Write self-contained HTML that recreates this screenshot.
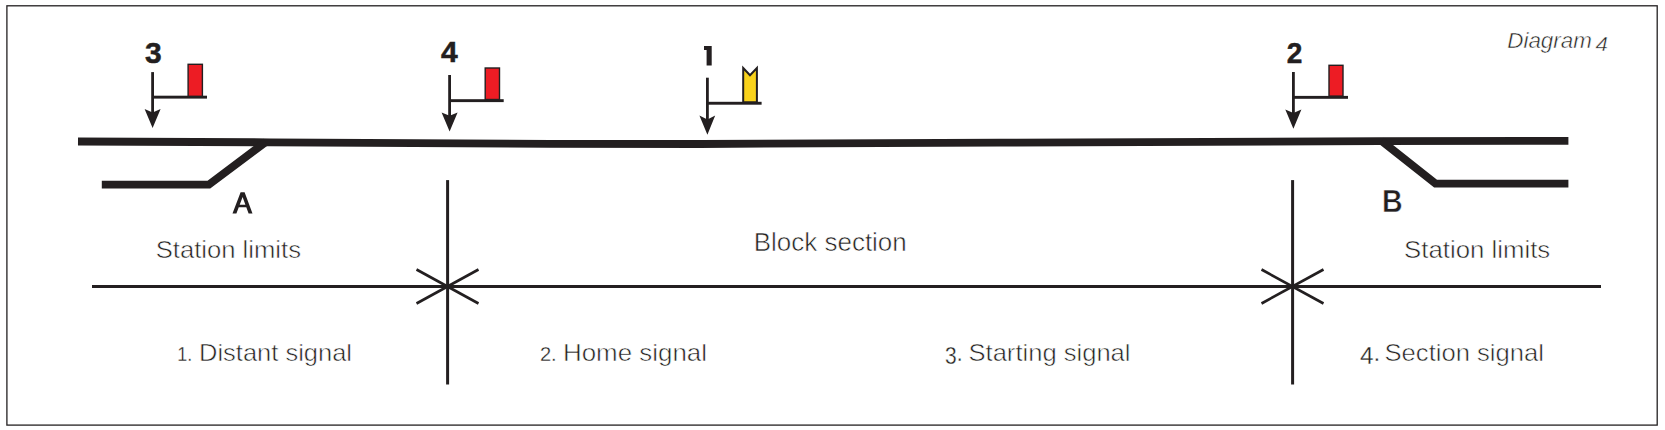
<!DOCTYPE html>
<html>
<head>
<meta charset="utf-8">
<style>
html,body{margin:0;padding:0;background:#fff;}
body{width:1665px;height:430px;overflow:hidden;}
svg{display:block;}
text{font-family:"Liberation Sans",sans-serif;}
</style>
</head>
<body>
<svg width="1665" height="430" viewBox="0 0 1665 430">
  <rect x="0" y="0" width="1665" height="430" fill="#fff"/>
  <!-- frame -->
  <rect x="6.9" y="5.8" width="1650.3" height="419.3" fill="none" stroke="#231f20" stroke-width="1.3"/>

  <!-- main track -->
  <polyline points="78,141.5 270,142.3 550,143.8 700,144 1000,142.6 1380,141.1 1568.4,140.8" fill="none" stroke="#231f20" stroke-width="7.8" stroke-linejoin="round"/>
  <!-- left siding -->
  <polyline points="101.8,184.6 208.9,184.6 265.7,142" fill="none" stroke="#231f20" stroke-width="7.9" stroke-linejoin="miter"/>
  <!-- right siding -->
  <polyline points="1381.5,140.9 1435.5,183.6 1568.4,183.6" fill="none" stroke="#231f20" stroke-width="7.9" stroke-linejoin="miter"/>

  <!-- signal 3 -->
  <g fill="#231f20" stroke="none">
    <rect x="151.2" y="72.1" width="2.8" height="44"/>
    <rect x="152.6" y="95.7" width="54.4" height="2.9"/>
    <path d="M144.6,109.1 L152.6,112.5 L160.6,109.1 L152.6,127.9 Z"/>
  </g>
  <rect x="188.1" y="64.3" width="14.3" height="32" fill="#ed1c24" stroke="#231f20" stroke-width="1.4"/>
  <text x="145" y="62.8" font-size="30" font-weight="bold" fill="#231f20" stroke="#231f20" stroke-width="0.5">3</text>

  <!-- signal 4 -->
  <g fill="#231f20" stroke="none">
    <rect x="448.2" y="75" width="2.8" height="44"/>
    <rect x="449.6" y="99.2" width="54.1" height="2.9"/>
    <path d="M441.6,112.4 L449.6,115.8 L457.6,112.4 L449.6,131.6 Z"/>
  </g>
  <rect x="485.2" y="68" width="14.3" height="31.5" fill="#ed1c24" stroke="#231f20" stroke-width="1.4"/>
  <text x="441" y="61.7" font-size="30" font-weight="bold" fill="#231f20" stroke="#231f20" stroke-width="0.5">4</text>

  <!-- signal 1 -->
  <g fill="#231f20" stroke="none">
    <rect x="706" y="77.7" width="2.8" height="44"/>
    <rect x="707.4" y="101.8" width="54.2" height="2.9"/>
    <path d="M699.4,115.4 L707.4,119.4 L715.2,115.4 L707.4,134.8 Z"/>
  </g>
  <path d="M743.2,68 L750,75.2 L756.9,68 L756.9,102.2 L743.2,102.2 Z" fill="#f9d21b" stroke="#231f20" stroke-width="2" stroke-linejoin="miter"/>
  <path d="M706.6,46 L711.7,46 L711.7,65.5 L706.6,65.5 L706.6,50 L704,50 L704,46 Z" fill="#231f20"/>

  <!-- signal 2 -->
  <g fill="#231f20" stroke="none">
    <rect x="1292" y="72" width="2.8" height="44"/>
    <rect x="1293.4" y="95.9" width="54.6" height="2.9"/>
    <path d="M1285.3,109.5 L1293.4,112.9 L1301.4,109.5 L1293.4,128.7 Z"/>
  </g>
  <rect x="1329" y="65.3" width="14" height="30.8" fill="#ed1c24" stroke="#231f20" stroke-width="1.4"/>
  <text x="1286.8" y="62.8" font-size="30" font-weight="bold" fill="#231f20" stroke="#231f20" stroke-width="0.5" textLength="15.6" lengthAdjust="spacingAndGlyphs">2</text>

  <!-- A / B -->
  <path d="M232.5,213.6 L240.6,192.2 L244.6,192.2 L252.5,213.6 L248.6,213.6 L246.3,207.3 L238.76,207.3 L236.4,213.6 Z M239.7,204.8 L242.6,197.1 L245.38,204.8 Z" fill="#231f20" fill-rule="evenodd"/>
  <text x="1382.1" y="212.2" font-size="32" fill="#231f20" font-weight="bold" stroke="#fff" stroke-width="0.5" textLength="20.6" lengthAdjust="spacingAndGlyphs">B</text>

  <!-- vertical dividers -->
  <g stroke="#231f20" stroke-width="3" fill="none">
    <line x1="447.6" y1="180.1" x2="447.6" y2="384.5"/>
    <line x1="1292.6" y1="180.1" x2="1292.6" y2="384.5"/>
    <line x1="92" y1="286.4" x2="1601" y2="286.4"/>
  </g>
  <g stroke="#231f20" stroke-width="2.6" fill="none">
    <line x1="416.5" y1="269.5" x2="478.5" y2="303.5"/>
    <line x1="416.5" y1="303.5" x2="478.5" y2="269.5"/>
    <line x1="1261.5" y1="269.5" x2="1323.5" y2="303.5"/>
    <line x1="1261.5" y1="303.5" x2="1323.5" y2="269.5"/>
  </g>

  <!-- labels -->
  <g fill="#231f20" font-size="24" stroke="#fff" stroke-width="0.55">
    <text x="155.7" y="257.9" font-size="24.8" textLength="145.3" lengthAdjust="spacingAndGlyphs">Station limits</text>
    <text x="753.7" y="251" font-size="25.2" textLength="153.1" lengthAdjust="spacingAndGlyphs">Block section</text>
    <text x="1404.1" y="257.8" font-size="24.8" textLength="146.1" lengthAdjust="spacingAndGlyphs">Station limits</text>
    <text id="n1" stroke-width="0.3" x="177.3" y="360.7" font-size="19.4" textLength="15" lengthAdjust="spacingAndGlyphs">1.</text>
    <text id="w1" x="199" y="360.7" textLength="153" lengthAdjust="spacingAndGlyphs">Distant signal</text>
    <text id="n2" stroke-width="0.3" x="539.9" y="360.7" font-size="19.4" textLength="16.8" lengthAdjust="spacingAndGlyphs">2.</text>
    <text id="w2" x="563" y="360.7" textLength="144" lengthAdjust="spacingAndGlyphs">Home signal</text>
    <text id="n3" stroke-width="0.3" x="945" y="363.8" font-size="23.5" textLength="17.5" lengthAdjust="spacingAndGlyphs">3<tspan dy="-3.1">.</tspan></text>
    <text id="w3" x="968.5" y="360.7" textLength="162" lengthAdjust="spacingAndGlyphs">Starting signal</text>
    <text id="n4" stroke-width="0.3" x="1360" y="363.5" font-size="23.5" textLength="20.3" lengthAdjust="spacingAndGlyphs">4<tspan dy="-2.8">.</tspan></text>
    <text id="w4" x="1384.5" y="360.7" textLength="159.5" lengthAdjust="spacingAndGlyphs">Section signal</text>
  </g>
  <g font-style="italic" fill="#231f20" stroke="#fff" stroke-width="0.5">
    <text id="d1" x="1507.3" y="47.9" font-size="22.5" textLength="84.5" lengthAdjust="spacingAndGlyphs">Diagram</text>
    <text id="d2" x="1595.5" y="50.5" font-size="21" textLength="12.5" lengthAdjust="spacingAndGlyphs">4</text>
  </g>
</svg>
</body>
</html>
